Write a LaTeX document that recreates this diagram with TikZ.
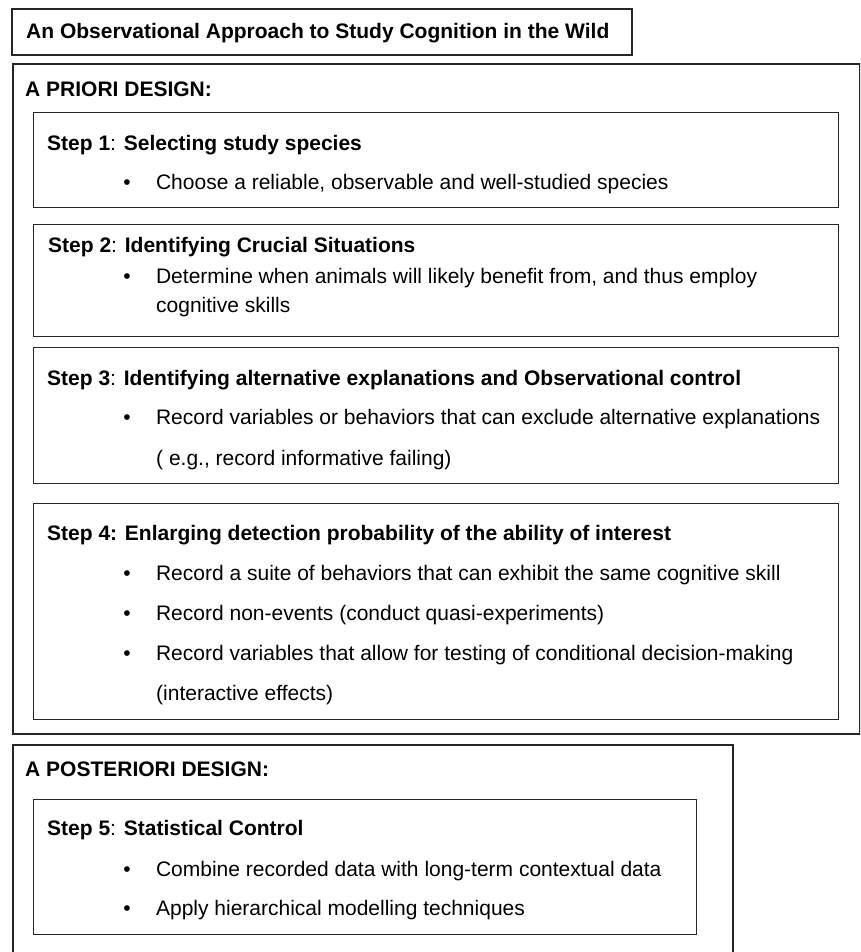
\documentclass[tikz,border=0pt]{standalone}
\usepackage{fontspec}
\setmainfont{Liberation Sans}
\usepackage{tikz}
\usetikzlibrary{positioning}

\begin{document}
\begin{tikzpicture}[x=1pt,y=-1pt,node distance=25pt,
  frame/.style={draw=black!85,line width=2pt,anchor=north west,inner sep=0pt},
  box/.style={draw=black!85,line width=1.3pt,anchor=north west,inner sep=0pt},
  txt/.style={anchor=west,inner sep=0pt,text height=15pt,text depth=0pt,font=\fontsize{21}{25}\selectfont},
  head/.style={txt,font=\fontsize{21}{25}\selectfont\bfseries},
  dot/.style={txt,anchor=center}]
  \useasboundingbox (0,0) rectangle (860,952);
  \clip (0,0) rectangle (860,952);

  % title
  \node[frame,minimum width=620pt,minimum height=46pt] (titlebox) at (11,8) {};
  \node[head] (title) at (26,31) {An Observational Approach to Study Cognition in the Wild};

  % a priori part
  \node[frame,minimum width=847pt,minimum height=670pt] (priori) at (12,63) {};
  \node[head] (prihead) at (25,89) {A PRIORI DESIGN:};

  \node[box,minimum width=805pt,minimum height=95pt] (s1box) at (33,112) {};
  \node[head] (s1) at (47,143) {Step 1{\mdseries:} Selecting study species};
  \node[dot] (b11) at (127,182) {\textbullet};
  \node[txt,right=of b11] (t11) {Choose a reliable, observable and well-studied species};

  \node[box,minimum width=805pt,minimum height=112pt] (s2box) at (33,224) {};
  \node[head] (s2) at (48,245) {Step 2{\mdseries:} Identifying Crucial Situations};
  \node[dot] (b21) at (127,276) {\textbullet};
  \node[txt,right=of b21] (t21) {Determine when animals will likely benefit from, and thus employ};
  \node[txt] (t22) at (156,305) {cognitive skills};

  \node[box,minimum width=805pt,minimum height=136pt] (s3box) at (33,347) {};
  \node[head] (s3) at (47,378) {Step 3{\mdseries:} Identifying alternative explanations and Observational control};
  \node[dot] (b31) at (127,417) {\textbullet};
  \node[txt,right=of b31] (t31) {Record variables or behaviors that can exclude alternative explanations};
  \node[txt] (t32) at (156,458) {( e.g., record informative failing)};

  \node[box,minimum width=805pt,minimum height=216pt] (s4box) at (33,503) {};
  \node[head] (s4) at (47,533) {Step 4: Enlarging detection probability of the ability of interest};
  \node[dot] (b41) at (127,573) {\textbullet};
  \node[txt,right=of b41] (t41) {Record a suite of behaviors that can exhibit the same cognitive skill};
  \node[dot] (b42) at (127,613) {\textbullet};
  \node[txt,right=of b42] (t42) {Record non-events (conduct quasi-experiments)};
  \node[dot] (b43) at (127,653) {\textbullet};
  \node[txt,right=of b43] (t43) {Record variables that allow for testing of conditional decision-making};
  \node[txt] (t44) at (156,693) {(interactive effects)};

  % a posteriori part
  \node[frame,minimum width=720pt,minimum height=230pt] (posteriori) at (12,744) {};
  \node[head] (posthead) at (25,769) {A POSTERIORI DESIGN:};

  \node[box,minimum width=663pt,minimum height=135pt] (s5box) at (33,799) {};
  \node[head] (s5) at (47,828) {Step 5{\mdseries:} Statistical Control};
  \node[dot] (b51) at (127,869) {\textbullet};
  \node[txt,right=of b51] (t51) {Combine recorded data with long-term contextual data};
  \node[dot] (b52) at (127,908) {\textbullet};
  \node[txt,right=of b52] (t52) {Apply hierarchical modelling techniques};
\end{tikzpicture}
\end{document}
